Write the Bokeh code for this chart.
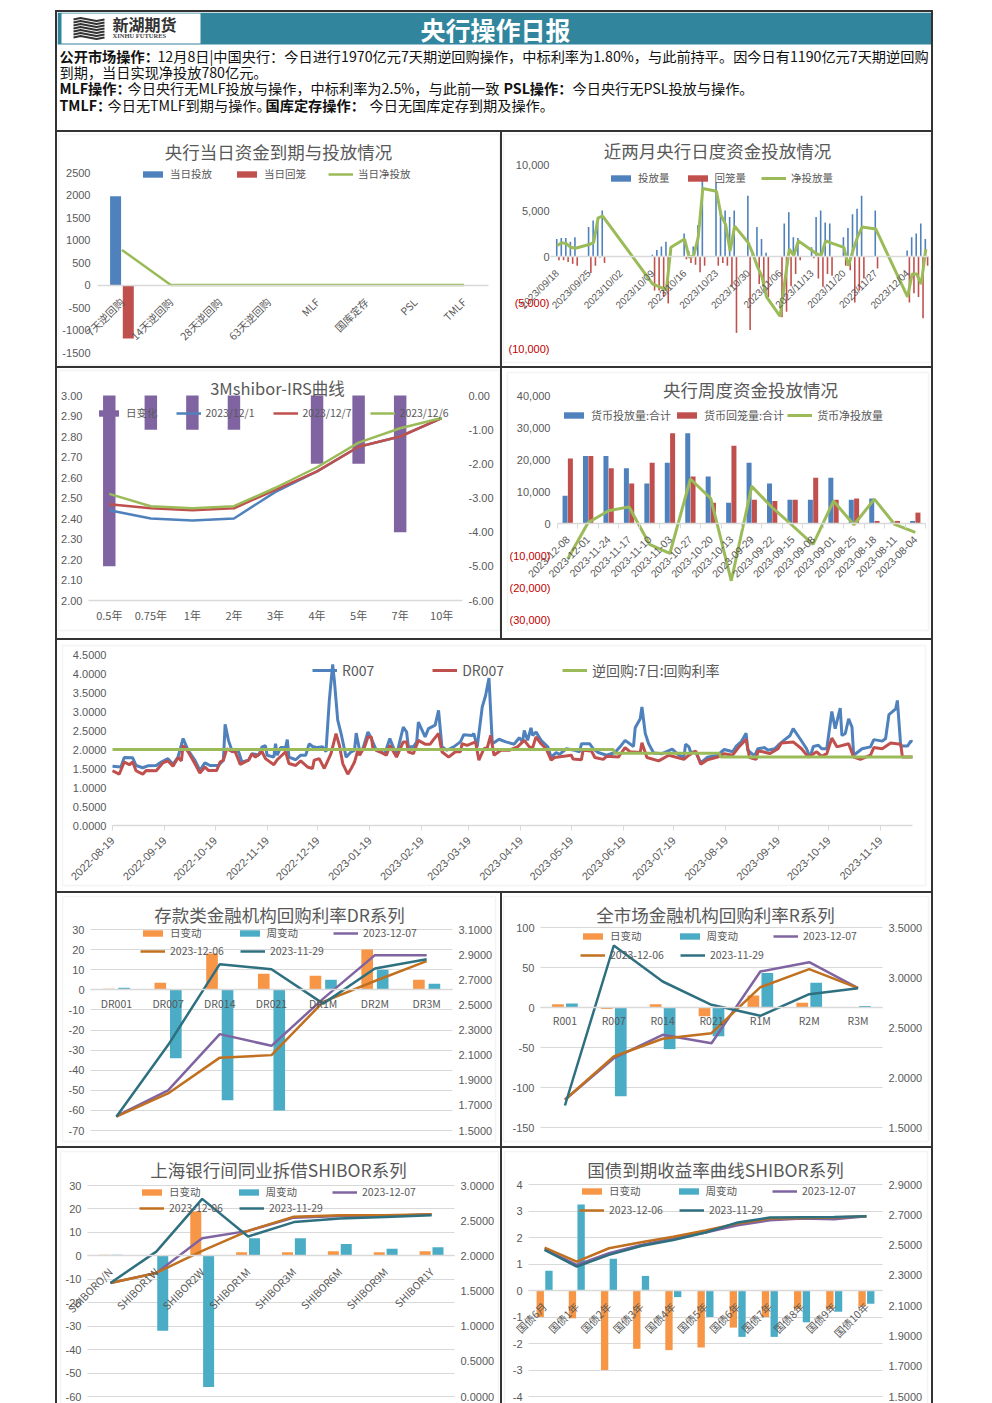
import pandas as pd
from bokeh.core.properties import value
from bokeh.embed import file_html
from bokeh.layouts import column, row
from bokeh.models import (BoxAnnotation, FixedTicker, Grid, Label, Legend, LegendItem, LinearAxis,
                          NumeralTickFormatter, PrintfTickFormatter, Range1d, Spacer)
from bokeh.plotting import figure
from bokeh.resources import INLINE

BLUE, RED, GREEN, PURPLE, ORANGE, TEAL, BROWN, DTEAL = "#4f81bd", "#c0504d", "#9bbb59", "#8064a2", "#f79646", "#4bacc6", "#c0701f", "#2f7080"
GREY = "#595959"
CJK = "Noto Sans CJK SC"
NUM = "Liberation Sans"

# ---------- data ----------
a_cats = ["7天逆回购", "14天逆回购", "28天逆回购", "63天逆回购", "MLF", "国库定存", "PSL", "TMLF"]
a_in = [1970, 0, 0, 0, 0, 0, 0, 0]
a_out = [-1190, 0, 0, 0, 0, 0, 0, 0]
a_net = [780, 0, 0, 0, 0, 0, 0, 0]

b_dates = ["2023-09-18", "2023-09-19", "2023-09-20", "2023-09-21", "2023-09-22", "2023-09-25", "2023-09-26", "2023-09-27", "2023-09-28",
           "2023-10-09", "2023-10-10", "2023-10-11", "2023-10-12", "2023-10-13", "2023-10-16", "2023-10-17", "2023-10-18", "2023-10-19", "2023-10-20",
           "2023-10-23", "2023-10-24", "2023-10-25", "2023-10-26", "2023-10-27", "2023-10-30", "2023-10-31", "2023-11-01", "2023-11-02", "2023-11-03",
           "2023-11-06", "2023-11-07", "2023-11-08", "2023-11-09", "2023-11-10", "2023-11-13", "2023-11-14", "2023-11-15", "2023-11-16", "2023-11-17",
           "2023-11-20", "2023-11-21", "2023-11-22", "2023-11-23", "2023-11-24", "2023-11-27", "2023-12-04", "2023-12-05", "2023-12-06", "2023-12-07", "2023-12-08"]
b_in = [1900, 2000, 2000, 1600, 2100, 3200, 3900, 4300, 5000,
        200, 700, 1100, 1600, 1000, 2500, 600, 1100, 3400, 8200,
        8000, 5000, 5000, 4300, 5000, 6600, 300, 3200, 1900, 400,
        0, 3600, 4800, 2100, 2000, 1000, 4300, 5000, 3700, 3600,
        2100, 3100, 4600, 5200, 6600, 5000, 650, 2100, 2500, 3600, 1900]
b_out = [-400, -400, -600, -800, -1000, -1800, -1000, -100, -700,
         -3700, -3700, -4400, -5100, 0, -300, -700, -900, -1700, -1000,
         -1000, -700, -1000, -3300, -8300, -8000, -300, -3000, -3700, -4400,
         -6600, -6000, -3200, -1900, -400, -200, -2400, -3300, -1900, -2100,
         -1000, -1500, -5000, -3700, -2400, -1300, -5000, -4000, -4400, -6700, -1000]
b_net = [1200, 1500, 1400, 1000, 900, 1300, 1500, 4200, 4400,
         -3000, -3200, -3400, -3600, 1000, 1900, -100, 100, 2100, 7400,
         7100, 4500, 3500, 600, 3300, 1500, 300, -1100, -2200, -4400,
         -6500, -2800, 800, 100, 1700, 650, 300, 100, 1700, 1500,
         1000, -1000, 650, 2100, 3200, 3000, -4400, -1900, -1900, -3000, 800]
b_tick_labels = ["2023/09/18", "2023/09/25", "2023/10/02", "2023/10/09", "2023/10/16", "2023/10/23", "2023/10/30", "2023/11/06", "2023/11/13", "2023/11/20", "2023/11/27", "2023/12/04"]

c_cats = ["0.5年", "0.75年", "1年", "2年", "3年", "4年", "5年", "7年", "10年"]
c_change = [-5, -1, -1, -1, 0, -2, -2, -4, 0]
c_1201 = [2.44, 2.40, 2.39, 2.40, 2.53, 2.63, 2.75, 2.80, 2.89]
c_1207 = [2.47, 2.45, 2.44, 2.45, 2.54, 2.63, 2.75, 2.80, 2.89]
c_1206 = [2.52, 2.46, 2.45, 2.46, 2.55, 2.65, 2.77, 2.84, 2.89]

d_cats = ["2023-12-08", "2023-12-01", "2023-11-24", "2023-11-17", "2023-11-10", "2023-11-03", "2023-10-27", "2023-10-20", "2023-10-13",
          "2023-09-29", "2023-09-22", "2023-09-15", "2023-09-08", "2023-09-01", "2023-08-25", "2023-08-18", "2023-08-11", "2023-08-04"]
d_in = [8700, 21100, 21100, 17300, 12500, 19000, 28200, 14700, 6500, 19000, 12500, 7400, 7400, 14300, 7400, 7800, 300, 800]
d_out = [20300, 21100, 17300, 12500, 19000, 28200, 14700, 6500, 24300, 7400, 7000, 7400, 14300, 7400, 7800, 800, 800, 3400]
d_net = [-11100, 300, 4000, 5200, -6500, -9300, 13900, 7800, -17900, 11600, 5000, -700, -6500, 7000, -400, 7600, -300, -2800]

e_start = "2022-08-19"
e_tick_labels = ["2022-08-19", "2022-09-19", "2022-10-19", "2022-11-19", "2022-12-19", "2023-01-19", "2023-02-19", "2023-03-19",
                 "2023-04-19", "2023-05-19", "2023-06-19", "2023-07-19", "2023-08-19", "2023-09-19", "2023-10-19", "2023-11-19"]
e_r_days = [0, 5, 7, 12, 14, 18, 21, 26, 29, 33, 36, 39, 42, 45, 49, 52, 55, 58, 63, 65, 66, 67, 69, 71, 75, 77, 81, 83, 87, 89, 91, 92, 96, 97, 98, 100,
            103, 104, 105, 109, 112, 115, 117, 119, 122, 125, 127, 129, 131, 132, 134, 136, 139, 142, 144, 145, 147, 149, 152, 154, 157, 162, 165, 169,
            173, 175, 176, 179, 181, 182, 186, 188, 192, 194, 196, 199, 203, 207, 209, 214, 215, 217, 220, 222, 224, 226, 230, 234, 239, 242, 244, 245,
            247, 249, 250, 252, 255, 259, 261, 264, 266, 270, 275, 278, 279, 284, 286, 289, 294, 299, 302, 305, 310, 311, 314, 315, 317, 319, 322, 327,
            333, 337, 340, 341, 343, 344, 347, 350, 354, 360, 364, 369, 371, 374, 377, 378, 382, 384, 388, 390, 394, 397, 400, 403, 405, 409, 413, 415,
            417, 420, 422, 425, 428, 430, 433, 434, 436, 438, 440, 441, 446, 451, 453, 458, 460, 462, 466, 467, 469, 473, 475, 476]
e_r007 = [1.56, 1.54, 1.79, 1.78, 1.58, 1.52, 1.57, 1.58, 1.67, 1.76, 1.61, 1.80, 2.29, 1.98, 1.72, 1.45, 1.65, 1.58, 1.58, 1.67, 1.72, 2.66, 2.24, 1.98, 1.94, 1.67, 1.72, 1.89, 1.85, 2.07, 2.10, 1.85, 1.80, 2.15, 1.85, 2.05,
          2.05, 2.26, 1.80, 1.73, 1.85, 1.85, 2.15, 2.08, 2.05, 2.07, 1.94, 3.29, 4.24, 3.82, 2.77, 2.42, 1.80, 1.94, 1.98, 2.43, 1.98, 2.02, 2.46, 2.29, 1.98, 1.89, 2.29, 1.85,
          2.59, 2.46, 2.07, 2.07, 2.20, 2.72, 2.33, 2.55, 2.64, 3.03, 2.07, 1.98, 2.07, 2.20, 2.39, 2.37, 2.42, 2.07, 3.12, 3.42, 3.88, 2.15, 2.27, 2.20, 2.14, 2.31, 2.20, 2.50,
          2.24, 2.57, 2.37, 2.46, 2.24, 2.07, 1.80, 1.92, 1.87, 2.02, 1.98, 1.94, 2.15, 2.15, 2.02, 1.92, 1.85, 1.92, 2.07, 2.24, 2.08, 2.57, 2.81, 3.12, 2.42, 2.15, 1.91, 1.89,
          2.01, 1.85, 1.80, 2.14, 2.07, 1.92, 1.94, 1.65, 1.80, 1.85, 2.00, 1.94, 2.08, 2.20, 2.43, 1.98, 1.83, 2.02, 2.05, 1.98, 2.02, 2.15, 2.26, 2.36, 2.55, 2.29, 2.02, 1.79,
          2.08, 2.11, 2.02, 2.02, 3.00, 2.55, 3.09, 2.37, 2.42, 2.81, 2.59, 1.85, 2.02, 2.07, 2.26, 2.22, 2.29, 2.92, 3.07, 3.29, 2.09, 2.09, 2.22, 2.20]
e_d_days = [0, 4, 7, 10, 12, 14, 18, 20, 26, 30, 33, 36, 39, 41, 42, 45, 49, 52, 55, 57, 62, 64, 66, 68, 71, 73, 76, 81, 83, 85, 89, 91, 96, 98, 103, 105,
            109, 112, 116, 119, 120, 123, 126, 130, 133, 135, 137, 140, 142, 144, 146, 147, 150, 152, 154, 155, 159, 163, 165, 169, 173, 175, 176, 179, 182,
            186, 189, 191, 194, 196, 200, 204, 207, 208, 211, 216, 218, 221, 223, 225, 227, 231, 236, 241, 245, 248, 250, 252, 255, 258, 261, 263, 273, 274,
            279, 280, 285, 287, 292, 294, 301, 305, 308, 314, 315, 318, 325, 331, 340, 343, 347, 350, 354, 360, 364, 369, 373, 377, 379, 383, 384, 387, 391,
            396, 398, 405, 410, 414, 419, 422, 425, 428, 431, 438, 441, 445, 451, 453, 458, 463, 469, 470, 476]
e_dr007 = [1.44, 1.35, 1.67, 1.60, 1.67, 1.44, 1.35, 1.45, 1.44, 1.65, 1.70, 1.56, 1.79, 1.70, 2.11, 1.94, 1.63, 1.38, 1.54, 1.45, 1.45, 1.67, 1.72, 2.02, 1.95, 1.94, 1.61, 1.72, 1.89, 1.80, 1.94, 1.76, 1.60, 1.73, 1.94, 1.63,
           1.58, 1.70, 1.54, 1.50, 1.72, 1.76, 1.50, 1.89, 2.42, 2.11, 1.63, 1.35, 1.50, 1.67, 1.98, 1.85, 2.07, 2.33, 2.33, 2.02, 1.94, 1.85, 2.11, 1.80, 2.20, 2.20, 1.94, 1.89, 2.24,
           2.14, 2.14, 2.26, 2.42, 1.94, 1.80, 1.94, 1.94, 2.15, 2.11, 2.20, 1.72, 2.02, 2.05, 2.37, 1.85, 1.98, 1.98, 2.07, 2.24, 2.07, 2.05, 2.33, 2.15, 2.02, 1.72, 1.79, 1.85, 1.75,
           1.73, 1.98, 1.96, 1.79, 1.74, 1.82, 1.80, 2.05, 1.94, 1.92, 2.18, 1.79, 1.70, 1.85, 1.74, 1.85, 1.96, 1.61, 1.73, 1.80, 1.89, 1.85, 2.08, 2.27, 1.79, 1.74, 1.96, 1.94, 1.89,
           2.02, 2.17, 2.20, 2.02, 1.80, 1.94, 1.82, 1.89, 2.30, 2.07, 2.15, 1.80, 1.74, 1.85, 2.05, 2.02, 2.17, 2.14, 1.80, 1.80]
e_rr_days = [0, 298, 299, 361, 362, 476]
e_rr = [2.0, 2.0, 1.9, 1.9, 1.8, 1.8]

f_cats = ["DR001", "DR007", "DR014", "DR021", "DR1M", "DR2M", "DR3M"]
f_day = [0.5, 3.5, 18, 8, 7, 20, 5]
f_week = [1, -34, -55, -60, 5, 10, 3]
f_1207 = [1.614, 1.82, 2.267, 2.174, 2.55, 2.896, 2.896]
f_1206 = [1.61, 1.795, 2.08, 2.10, 2.524, 2.69, 2.848]
f_1129 = [1.61, 2.18, 2.824, 2.784, 2.51, 2.79, 2.864]

g_cats = ["R001", "R007", "R014", "R021", "R1M", "R2M", "R3M"]
g_day = [4, -2, 4, -11, 15, 6, 0]
g_week = [5, -111, -52, -36, 43, 31, 2]
g_1207 = [1.777, 2.193, 2.427, 2.343, 3.06, 3.153, 2.893]
g_1206 = [1.777, 2.21, 2.387, 2.443, 2.903, 3.083, 2.893]
g_1129 = [1.72, 3.32, 2.96, 2.727, 2.617, 2.833, 2.893]

h_cats = ["SHIBORO/N", "SHIBOR1W", "SHIBOR2W", "SHIBOR1M", "SHIBOR3M", "SHIBOR6M", "SHIBOR9M", "SHIBOR1Y"]
h_day = [0.5, 0, 19, 1.5, 1.5, 2, 1.5, 2]
h_week = [0.5, -32, -56, 7.5, 7.5, 5, 3, 3.7]
h_1207 = [1.615, 1.757, 2.25, 2.355, 2.543, 2.567, 2.567, 2.59]
h_1206 = [1.615, 1.757, 2.07, 2.355, 2.557, 2.576, 2.576, 2.59]
h_1129 = [1.615, 2.06, 2.81, 2.275, 2.48, 2.53, 2.553, 2.576]

i_cats = ["国债6月", "国债1年", "国债2年", "国债3年", "国债4年", "国债5年", "国债6年", "国债7年", "国债8年", "国债9年", "国债10年"]
i_day = [-1, -1.05, -3, -2.2, -2.25, -2.15, -1.4, -1, -0.7, -0.7, -0.6]
i_week = [0.75, 3.25, 1.2, 0.55, -0.25, -1, -1.75, -1.75, -1.2, -0.8, -0.5]
i_1207 = [2.472, 2.369, 2.446, 2.5, 2.544, 2.583, 2.631, 2.664, 2.675, 2.67, 2.69]
i_1206 = [2.483, 2.391, 2.479, 2.518, 2.555, 2.596, 2.642, 2.675, 2.679, 2.682, 2.69]
i_1129 = [2.468, 2.358, 2.435, 2.494, 2.533, 2.583, 2.649, 2.682, 2.684, 2.686, 2.69]


# ---------- helpers ----------
class Panel:
    """The Bokeh frame fills the whole cell; the chart's plot area (`frame`) is a sub-rectangle of it, so nothing is clipped."""

    def __init__(self, cell, frame, xr, yr, border):
        self.cell, self.frame, self.xr, self.yr = cell, frame, xr, yr
        x0, y0, x1, y1 = cell
        self.p = figure(width=x1 - x0, height=y1 - y0,
                        x_range=Range1d(self.X(x0), self.X(x1)), y_range=Range1d(self.Y(y1), self.Y(y0)),
                        x_axis_type=None, y_axis_type=None, tools="", toolbar_location=None, output_backend="svg",
                        min_border_left=0, min_border_right=0, min_border_top=0, min_border_bottom=0,
                        outline_line_color=None, border_fill_color="white", background_fill_color="white")
        bl, bt, br, bb = border
        self.p.add_layout(BoxAnnotation(left=self.X(bl), right=self.X(br), top=self.Y(bt), bottom=self.Y(bb),
                                        fill_alpha=0, line_color="#d9d9d9", line_width=1.5, level="underlay"))

    def X(self, px):
        l, _, r, _ = self.frame
        return self.xr[0] + (px - l) / (r - l) * (self.xr[1] - self.xr[0])

    def Y(self, py, yr=None):
        _, t, _, b = self.frame
        yr = yr or self.yr
        return yr[0] + (b - py) / (b - t) * (yr[1] - yr[0])

    def right_range(self, ryr):
        _, y0, _, y1 = self.cell
        self.p.extra_y_ranges = {"r": Range1d(self.Y(y1, ryr), self.Y(y0, ryr))}

    def title(self, text, cx, cy, size="17.5px"):
        self.p.add_layout(Label(x=self.X(cx), y=self.Y(cy - 2), text=text, text_align="center", text_baseline="middle",
                                text_font=CJK, text_font_size=size, text_color=GREY))

    def yaxis(self, side, ticks, fmt, range_name="default", color=GREY, standoff=6, size="11px"):
        loc = self.xr[0] if side == "left" else self.xr[1]
        self.p.add_layout(LinearAxis(ticker=FixedTicker(ticks=ticks), formatter=fmt, axis_line_color=None,
                                     major_tick_line_color=None, minor_tick_line_color=None, major_tick_in=0, major_tick_out=0,
                                     major_label_standoff=standoff,
                                     major_label_text_font=NUM, major_label_text_font_size=size, major_label_text_color=color,
                                     fixed_location=loc, y_range_name=range_name), side)

    def xaxis(self, ticks, labels, loc, angle=None, size="10.5px", standoff=8, minor=None, tick=False, font=CJK):
        self.p.add_layout(LinearAxis(ticker=FixedTicker(ticks=ticks, minor_ticks=minor or []), bounds=self.xr,
                                     major_label_overrides=dict(zip(ticks, labels)),
                                     major_label_orientation=angle if angle else "horizontal",
                                     fixed_location=loc, axis_line_color="#d9d9d9", axis_line_width=1.5,
                                     major_tick_line_color="#d9d9d9" if tick else None, major_tick_in=0, major_tick_out=5,
                                     minor_tick_line_color="#d9d9d9" if minor else None, minor_tick_in=0, minor_tick_out=5,
                                     major_label_standoff=standoff, major_label_text_font=font,
                                     major_label_text_font_size=size, major_label_text_color=GREY), "below")

    def grid(self, ticks):
        self.p.add_layout(Grid(dimension=1, ticker=FixedTicker(ticks=ticks), cross_bounds=self.xr,
                               grid_line_color="#d9d9d9", grid_line_width=1))

    def legend(self, items, xpx, ycpx, spacing, size="10.5px", gw=25, gh=8, h=14):
        x0, _, _, y1 = self.cell
        self.p.add_layout(Legend(items=[LegendItem(label=value(n), renderers=[r]) for n, r in items],
                                 orientation="horizontal", location=(xpx - x0, y1 - ycpx - h / 2), padding=0, margin=0,
                                 spacing=spacing, glyph_width=gw, glyph_height=gh, label_height=12, label_standoff=5,
                                 label_text_font=CJK, label_text_font_size=size, label_text_color=GREY,
                                 background_fill_alpha=0, border_line_color=None))


def series_panel(cell, frame, border, yr, ryr, cats, day, week, l1, l2, l3, left_ticks, right_ticks, left_fmt, title, tx, ty, leg,
                 offset, width, angle, standoff, lw=2.5):
    n = len(cats)
    pn = Panel(cell, frame, (-0.5, n - 0.5), yr, border)
    p = pn.p
    pn.right_range(ryr)
    pn.grid(left_ticks)
    xs = list(range(n))
    r1 = p.vbar(x=[i - offset for i in xs], width=width, top=day, bottom=0, fill_color=ORANGE, line_color=None)
    r2 = p.vbar(x=[i + offset for i in xs], width=width, top=week, bottom=0, fill_color=TEAL, line_color=None)
    r3 = p.line(xs, l1, y_range_name="r", line_color=PURPLE, line_width=lw)
    r4 = p.line(xs, l2, y_range_name="r", line_color=BROWN, line_width=lw)
    r5 = p.line(xs, l3, y_range_name="r", line_color=DTEAL, line_width=lw)
    pn.yaxis("left", left_ticks, left_fmt)
    pn.yaxis("right", right_ticks, PrintfTickFormatter(format="%.4f"), "r")
    pn.xaxis(xs, cats, 0, angle=angle, standoff=standoff)
    pn.title(title, tx, ty)
    kx, ky1, ky2 = leg
    pn.legend([("日变动", r1), ("周变动", r2), ("2023-12-07", r3)], kx, ky1, 35)
    pn.legend([("2023-12-06", r4), ("2023-11-29", r5)], kx, ky2, 16)
    return p


# ---------- header ----------
hdr = figure(width=874, height=118, x_range=Range1d(57, 931), y_range=Range1d(130, 12), x_axis_type=None, y_axis_type=None,
             tools="", toolbar_location=None, output_backend="svg", min_border_left=0, min_border_right=0, min_border_top=0,
             min_border_bottom=0, outline_line_color=None, border_fill_color="white", background_fill_color="white")
hdr.quad(left=[57], right=[931], top=[12], bottom=[44], fill_color="#31859c", line_color=None)
hdr.quad(left=[61], right=[200], top=[13], bottom=[43], fill_color="white", line_color=None)
for yy in (19, 22, 25, 28, 31, 34, 37):
    hdr.line([73, 80, 88, 96, 104], [yy, yy - 1.5, yy, yy + 1.5, yy], line_color="#333333", line_width=2)


def htext(x, y, t, size="14.2px", color="#111111", bold=False, font=CJK, align="left"):
    hdr.add_layout(Label(x=x, y=y - 2, text=t, text_font=font, text_font_size=size, text_color=color,
                         text_font_style="bold" if bold else "normal", text_baseline="middle", text_align=align))


htext(112, 25, "新湖期货", size="16px", color="#333333", bold=True)
htext(112, 37, "XINHU FUTURES", size="6.5px", color="#444444", font="Liberation Serif", bold=True)
htext(495, 30, "央行操作日报", size="25px", color="white", bold=True, align="center")
htext(59, 57, "公开市场操作：", bold=True)
htext(157, 57, "12月8日|中国央行：今日进行1970亿元7天期逆回购操作，中标利率为1.80%，与此前持平。因今日有1190亿元7天期逆回购")
htext(59, 73, "到期，当日实现净投放780亿元。")
htext(59, 89, "MLF操作：", bold=True)
htext(127, 89, "今日央行无MLF投放与操作，中标利率为2.5%，与此前一致")
htext(503, 89, "PSL操作：", bold=True)
htext(572, 89, "今日央行无PSL投放与操作。")
htext(59, 106, "TMLF：", bold=True)
htext(107, 106, "今日无TMLF到期与操作。")
htext(265, 106, "国库定存操作：", bold=True)
htext(369, 106, "今日无国库定存到期及操作。")

# ---------- panel A ----------
pa = Panel((57, 132, 500, 366), (97, 172, 488, 352), (-0.5, 7.5), (-1500, 2500), (58, 134, 499, 365))
xs = list(range(8))
ra1 = pa.p.vbar(x=[i - 0.13 for i in xs], width=0.225, top=a_in, bottom=0, fill_color=BLUE, line_color=None)
ra2 = pa.p.vbar(x=[i + 0.13 for i in xs], width=0.225, top=a_out, bottom=0, fill_color=RED, line_color=None)
ra3 = pa.p.line(xs, a_net, line_color=GREEN, line_width=2.5)
pa.yaxis("left", [-1500, -1000, -500, 0, 500, 1000, 1500, 2000, 2500], PrintfTickFormatter(format="%d"), standoff=7)
pa.xaxis(xs, a_cats, 0, angle=0.785, standoff=10)
pa.title("央行当日资金到期与投放情况", 278, 153)
pa.legend([("当日投放", ra1), ("当日回笼", ra2), ("当日净投放", ra3)], 140, 174, 22)

# ---------- panel B ----------
b_day0 = pd.Timestamp(b_dates[0])
b_days = [(pd.Timestamp(d) - b_day0).days for d in b_dates]
b_ticks = [(pd.Timestamp(d.replace("/", "-")) - b_day0).days for d in b_tick_labels]
pb = Panel((502, 132, 931, 366), (550, 164, 928, 348), (-1.47, 81.6), (-10000, 10000), (503, 134, 930, 362))
rb1 = pb.p.vbar(x=[d - 0.1 for d in b_days], width=0.35, top=b_in, bottom=0, fill_color=BLUE, line_color=None)
rb2 = pb.p.vbar(x=[d + 0.4 for d in b_days], width=0.35, top=b_out, bottom=0, fill_color=RED, line_color=None)
rb3 = pb.p.line(b_days, b_net, line_color=GREEN, line_width=3)
pb.yaxis("left", [0, 5000, 10000], NumeralTickFormatter(format="0,0"), standoff=1)
pb.yaxis("left", [-10000, -5000], NumeralTickFormatter(format="(0,0)"), color="#c00000", standoff=1)
pb.xaxis(b_ticks, b_tick_labels, 0, angle=0.785, size="10px", standoff=10, font=NUM)
pb.title("近两月央行日度资金投放情况", 717, 152)
pb.legend([("投放量", rb1), ("回笼量", rb2), ("净投放量", rb3)], 608, 178, 15)

# ---------- panel C ----------
pc = Panel((57, 368, 500, 638), (88, 395, 462, 600), (-0.5, 8.5), (2.0, 3.0), (58, 370, 499, 630))
pc.right_range((-6, 0))
xs = list(range(9))
rc0 = pc.p.vbar(x=xs, width=0.3, top=0, bottom=c_change, y_range_name="r", fill_color=PURPLE, line_color=None)
rc1 = pc.p.line(xs, c_1201, line_color=BLUE, line_width=2.5)
rc2 = pc.p.line(xs, c_1207, line_color=RED, line_width=2.5)
rc3 = pc.p.line(xs, c_1206, line_color=GREEN, line_width=2.5)
pc.yaxis("left", [2.0, 2.1, 2.2, 2.3, 2.4, 2.5, 2.6, 2.7, 2.8, 2.9, 3.0], PrintfTickFormatter(format="%.2f"))
pc.yaxis("right", [-6, -5, -4, -3, -2, -1, 0], PrintfTickFormatter(format="%.2f"), "r")
pc.xaxis(xs, c_cats, 2.0, size="11px", standoff=1)
pc.title("3Mshibor-IRS曲线", 277, 389, size="16.5px")
pc.legend([("日变化", rc0), ("2023/12/1", rc1), ("2023/12/7", rc2), ("2023/12/6", rc3)], 96, 413, 18)

# ---------- panel D ----------
pd_ = Panel((502, 368, 931, 638), (557, 395, 925, 619), (-0.5, 17.5), (-30000, 40000), (507, 372, 928, 630))
xs = list(range(18))
rd1 = pd_.p.vbar(x=[i - 0.13 for i in xs], width=0.245, top=d_in, bottom=0, fill_color=BLUE, line_color=None)
rd2 = pd_.p.vbar(x=[i + 0.13 for i in xs], width=0.245, top=d_out, bottom=0, fill_color=RED, line_color=None)
rd3 = pd_.p.line(xs, d_net, line_color=GREEN, line_width=3)
pd_.yaxis("left", [0, 10000, 20000, 30000, 40000], NumeralTickFormatter(format="0,0"), standoff=7)
pd_.yaxis("left", [-30000, -20000, -10000], NumeralTickFormatter(format="(0,0)"), color="#c00000", standoff=7)
pd_.xaxis(xs, d_cats, 0, angle=0.785, size="10.5px", standoff=9, minor=[i - 0.5 for i in range(19)], font=NUM)
pd_.title("央行周度资金投放情况", 750, 391)
pd_.legend([("货币投放量:合计", rd1), ("货币回笼量:合计", rd2), ("货币净投放量", rd3)], 561, 416, 3, size="11px")

# ---------- panel E ----------
e_day0 = pd.Timestamp(e_start)
e_ticks = [(pd.Timestamp(d) - e_day0).days for d in e_tick_labels]
pe = Panel((57, 640, 931, 891), (112, 654, 912, 825), (0, 476), (0, 4.5), (62, 645, 925, 885))
re1 = pe.p.line(e_r_days, e_r007, line_color=BLUE, line_width=3)
re2 = pe.p.line(e_d_days, e_dr007, line_color=RED, line_width=3)
re3 = pe.p.line(e_rr_days, e_rr, line_color=GREEN, line_width=3)
pe.yaxis("left", [0, 0.5, 1, 1.5, 2, 2.5, 3, 3.5, 4, 4.5], PrintfTickFormatter(format="%.4f"))
pe.xaxis(e_ticks, e_tick_labels, 0, angle=0.785, size="11px", standoff=8, tick=True, font=NUM)
pe.legend([("R007", re1), ("DR007", re2), ("逆回购:7日:回购利率", re3)], 312, 671, 58, size="14px", h=18)

# ---------- panels F-I ----------
fmt_d = PrintfTickFormatter(format="%d")
pf = series_panel((57, 893, 500, 1146), (90, 929, 452, 1130), (62, 896, 495, 1141), (-70, 30), (1.5, 3.1), f_cats, f_day, f_week, f_1207, f_1206, f_1129,
                  list(range(-70, 31, 10)), [1.5, 1.7, 1.9, 2.1, 2.3, 2.5, 2.7, 2.9, 3.1], fmt_d, "存款类金融机构回购利率DR系列", 279, 916,
                  (140, 933, 951), 0.15, 0.225, None, 1)
pg = series_panel((502, 893, 931, 1146), (540, 927, 882, 1127), (503, 896, 928, 1141), (-150, 100), (1.5, 3.5), g_cats, g_day, g_week, g_1207, g_1206, g_1129,
                  [-150, -100, -50, 0, 50, 100], [1.5, 2.0, 2.5, 3.0, 3.5], fmt_d, "全市场金融机构回购利率R系列", 715, 916,
                  (580, 936, 955), 0.143, 0.24, None, 0)
ph = series_panel((57, 1148, 500, 1403), (87, 1185, 454, 1396), (60, 1151, 498, 1410), (-60, 30), (0, 3), h_cats, h_day, h_week, h_1207, h_1206, h_1129,
                  list(range(-60, 31, 10)), [0, 0.5, 1, 1.5, 2, 2.5, 3], fmt_d, "上海银行间同业拆借SHIBOR系列", 278, 1171,
                  (139, 1192, 1208), 0.14, 0.24, 0.785, 9)
pi = series_panel((502, 1148, 931, 1403), (528, 1184, 882, 1396), (504, 1151, 927, 1410), (-4, 4), (1.5, 2.9), i_cats, i_day, i_week, i_1207, i_1206, i_1129,
                  [-4, -3, -2, -1, 0, 1, 2, 3, 4], [1.5, 1.7, 1.9, 2.1, 2.3, 2.5, 2.7, 2.9], fmt_d, "国债到期收益率曲线SHIBOR系列", 715, 1171,
                  (579, 1191, 1210), 0.135, 0.228, 0.785, 9)


# ---------- page frame ----------
def dark(w, h):
    return Spacer(width=w, height=h, styles={"background-color": "#333333"})


def pad(h):
    return Spacer(width=55, height=h)


rows = [
    Spacer(width=10, height=10),
    row(pad(2), dark(878, 2)),
    row(pad(118), dark(2, 118), hdr, dark(2, 118)),
    row(pad(2), dark(878, 2)),
    row(pad(234), dark(2, 234), pa.p, dark(2, 234), pb.p, dark(2, 234)),
    row(pad(2), dark(878, 2)),
    row(pad(270), dark(2, 270), pc.p, dark(2, 270), pd_.p, dark(2, 270)),
    row(pad(2), dark(878, 2)),
    row(pad(251), dark(2, 251), pe.p, dark(2, 251)),
    row(pad(2), dark(878, 2)),
    row(pad(253), dark(2, 253), pf, dark(2, 253), pg, dark(2, 253)),
    row(pad(2), dark(878, 2)),
    row(pad(255), dark(2, 255), ph, dark(2, 255), pi, dark(2, 255)),
]
page = column(*rows)
open("out.html", "w").write(file_html(page, INLINE))
